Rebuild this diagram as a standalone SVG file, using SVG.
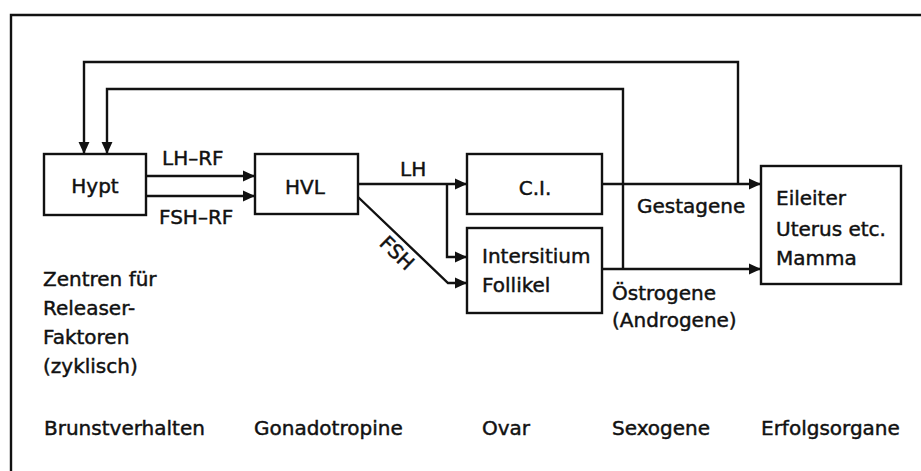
<svg xmlns="http://www.w3.org/2000/svg" width="921" height="471" viewBox="0 0 921 471">
<style>
text{font-family:"DejaVu Sans","Liberation Sans",sans-serif;font-size:20px;fill:#111;stroke:#111;stroke-width:0.45}
.box{fill:#fff;stroke:#111;stroke-width:2.4}
.ln{fill:none;stroke:#111;stroke-width:2.4}
.ar{fill:none;stroke:#111;stroke-width:2.4;marker-end:url(#ah)}
.m{text-anchor:middle}
</style>
<defs>
<marker id="ah" markerUnits="userSpaceOnUse" markerWidth="12" markerHeight="12" refX="11" refY="5" orient="auto" viewBox="0 0 11 10">
<path d="M0,0 L11,5 L0,10 Z" fill="#111"/>
</marker>
</defs>
<rect width="921" height="471" fill="#fff"/>
<g id="frame"><path class="ln" d="M11,471 V15 H921"/></g>
<g id="connectors">
<path class="ar" d="M738,184 V62 H84 V154"/>
<path class="ar" d="M623,269 V89 H107 V154"/>
<path class="ar" d="M146,176 H255"/>
<path class="ar" d="M146,196 H255"/>
<path class="ar" d="M358,184 H467"/>
<path class="ar" d="M447,184 V257 H467"/>
<path class="ar" d="M358,197 L448,283 H467"/>
<path class="ar" d="M602,184 H761"/>
<path class="ar" d="M602,269 H761"/>
</g>
<g id="labels">
<text x="162" y="165">LH–RF</text>
<text x="159" y="224">FSH–RF</text>
<text x="400" y="176">LH</text>
<text class="m" transform="translate(397,253) rotate(44)" y="7">FSH</text>
<text x="637" y="213">Gestagene</text>
<text x="612" y="300">Östrogene</text>
<text x="612" y="327">(Androgene)</text>
</g>
<g id="hypt"><rect class="box" x="44" y="154" width="102" height="61"/><text class="m" x="95" y="193">Hypt</text></g>
<g id="hvl"><rect class="box" x="255" y="154" width="103" height="60"/><text class="m" x="305" y="194">HVL</text></g>
<g id="ci"><rect class="box" x="467" y="154" width="135" height="60"/><text class="m" x="535" y="195">C.I.</text></g>
<g id="follikel"><rect class="box" x="467" y="228" width="135" height="85"/><text x="482" y="263">Intersitium</text><text x="482" y="292">Follikel</text></g>
<g id="erfolg"><rect class="box" x="761" y="166" width="140" height="118"/><text x="776" y="205">Eileiter</text><text x="776" y="236">Uterus etc.</text><text x="776" y="265">Mamma</text></g>
<g id="zentren"><text x="43" y="286">Zentren für</text><text x="43" y="315">Releaser-</text><text x="43" y="344">Faktoren</text><text x="43" y="373">(zyklisch)</text></g>
<g id="bottom">
<text x="44" y="435">Brunstverhalten</text>
<text x="254" y="435">Gonadotropine</text>
<text x="482" y="435">Ovar</text>
<text x="612" y="435">Sexogene</text>
<text x="761" y="435">Erfolgsorgane</text>
</g>
</svg>
